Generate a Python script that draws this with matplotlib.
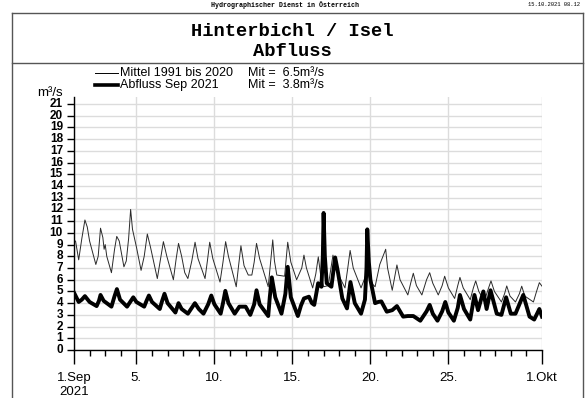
import matplotlib
matplotlib.use("Agg")
import matplotlib.pyplot as plt
from matplotlib.lines import Line2D
from matplotlib.ticker import FixedLocator, MultipleLocator

plt.rcParams['font.family'] = ['Liberation Sans', 'DejaVu Sans']

# Mittel 1991 bis 2020 (Tage ab 1. Sep, m³/s)
mean_t = [0.0, 0.1, 0.3, 0.5, 0.7, 0.85, 1.0, 1.1, 1.4, 1.55, 1.7, 1.85, 1.93, 2.0, 2.1,
          2.4, 2.6, 2.74, 2.9, 3.2, 3.35, 3.5, 3.63, 3.75, 4.0, 4.3, 4.5, 4.7, 4.9,
          5.34, 5.55, 5.73, 5.95, 6.37, 6.55, 6.7, 6.9, 7.1, 7.3, 7.55, 7.76, 7.95,
          8.4, 8.55, 8.7, 8.9, 9.36, 9.55, 9.72, 9.9, 10.4, 10.55, 10.7, 10.9, 11.17,
          11.4, 11.55, 11.7, 11.9, 12.45, 12.6, 12.74, 12.85, 13.0, 13.5, 13.6, 13.7,
          13.9, 14.27, 14.6, 14.74, 14.9, 15.3, 15.5, 15.66, 15.8, 16.0, 16.3, 16.6,
          16.75, 17.0, 17.37, 17.55, 17.7, 17.9, 18.4, 18.6, 18.8, 19.0, 19.3, 19.6,
          19.98, 20.1, 20.4, 20.55, 20.7, 20.9, 21.4, 21.6, 21.75, 21.95, 22.3, 22.6,
          22.8, 23.0, 23.35, 23.6, 23.76, 24.0, 24.4, 24.6, 24.74, 24.95, 25.4, 25.6,
          25.75, 25.95, 26.3, 26.55, 26.73, 26.95, 27.4, 27.6, 27.74, 27.95, 28.3,
          28.55, 28.7, 28.9, 29.45, 29.65, 29.83, 30.0]
mean_q = [9.3, 9.3, 7.7, 9.5, 11.1, 10.5, 9.3, 8.8, 7.3, 8.0, 10.4, 9.6, 8.6, 9.0, 8.0,
          6.6, 8.6, 9.7, 9.3, 7.1, 7.6, 9.5, 12.0, 10.3, 8.8, 6.8, 8.0, 9.9, 8.8,
          6.1, 7.8, 9.25, 8.0, 6.0, 7.8, 9.1, 8.0, 6.6, 6.1, 7.6, 9.2, 7.8,
          6.1, 7.6, 9.2, 7.8, 5.8, 7.5, 9.25, 8.0, 5.4, 7.2, 8.9, 7.2, 6.4,
          6.4, 7.5, 9.1, 7.8, 5.4, 7.5, 9.4, 7.6, 6.4, 6.3, 7.8, 9.2,
          7.5, 6.0, 7.0, 8.1, 7.0, 5.3, 6.5, 7.95, 6.5, 5.4, 5.5, 8.1,
          7.0, 6.3, 5.3, 7.0, 8.5, 7.0, 5.3, 6.0, 6.8, 5.8, 5.4, 7.3,
          8.6, 7.0, 5.1, 6.2, 7.26, 6.0, 4.7, 5.8, 6.55, 5.5, 4.7, 6.0,
          6.6, 5.7, 4.7, 5.5, 6.3, 5.3, 4.4, 5.5, 6.2, 5.3, 4.3, 5.3,
          5.9, 5.0, 4.15, 5.2, 5.9, 5.0, 4.1, 4.8, 5.47, 4.6, 4.1,
          4.8, 5.45, 4.6, 4.1, 5.0, 5.75, 5.45]

# Abfluss Sep 2021
sep_t = [0.0, 0.3, 0.5, 0.7, 1.0, 1.45, 1.6, 1.7, 1.9, 2.4, 2.6, 2.75, 2.95, 3.4, 3.6,
         3.8, 4.0, 4.5, 4.65, 4.8, 5.0, 5.5, 5.65, 5.8, 6.0, 6.5, 6.6, 6.7, 6.9, 7.3,
         7.55, 7.75, 8.0, 8.3, 8.6, 8.8, 9.0, 9.4, 9.55, 9.7, 9.9, 10.3, 10.6, 11.0,
         11.3, 11.55, 11.7, 11.9, 12.45, 12.55, 12.68, 12.9, 13.3, 13.55, 13.7, 13.9,
         14.35, 14.55, 14.74, 15.06, 15.25, 15.4, 15.65, 15.86, 15.95, 16.0, 16.08,
         16.2, 16.5, 16.74, 16.9, 17.2, 17.5, 17.72, 18.0, 18.4, 18.65, 18.75, 18.8,
         18.9, 19.0, 19.3, 19.5, 19.7, 20.05, 20.4, 20.7, 21.1, 21.4, 21.75, 22.2,
         22.6, 22.8, 23.0, 23.3, 23.6, 23.8, 24.0, 24.35, 24.6, 24.74, 25.0, 25.4,
         25.67, 25.9, 26.24, 26.45, 26.7, 27.1, 27.4, 27.7, 28.0, 28.3, 28.8, 29.2,
         29.5, 29.83, 30.0]
sep_q = [4.9, 4.1, 4.3, 4.6, 4.1, 3.75, 4.2, 4.7, 4.2, 3.7, 4.6, 5.2, 4.3, 3.7, 4.1,
         4.5, 4.1, 3.7, 4.2, 4.65, 4.1, 3.5, 4.2, 4.8, 4.0, 3.2, 3.6, 4.0, 3.5, 3.1,
         3.6, 4.0, 3.5, 3.1, 3.9, 4.65, 3.9, 3.1, 4.0, 5.05, 4.0, 3.1, 3.7, 3.7,
         3.0, 3.9, 5.1, 3.9, 2.9, 4.5, 6.2, 4.5, 3.1, 4.8, 7.1, 4.5,
         2.9, 3.8, 4.4, 4.55, 4.0, 3.85, 5.7, 5.4, 8.0, 11.7, 8.0,
         5.7, 5.4, 7.9, 6.8, 4.4, 3.55, 5.8, 4.0, 3.1, 4.3, 7.0, 10.3,
         7.5, 6.0, 4.0, 4.1, 4.15, 3.27, 3.4, 3.75, 2.85, 2.9, 2.9, 2.5,
         3.3, 3.85, 3.1, 2.5, 3.3, 4.1, 3.2, 2.5, 3.6, 4.7, 3.5, 2.6,
         4.7, 3.4, 5.0, 3.5, 5.1, 3.1, 3.0, 4.5, 3.1, 3.1, 4.7, 2.85,
         2.6, 3.5, 2.85]

tick_days = [0, 4, 9, 14, 19, 24, 30]
tick_labels = ['1.Sep\n2021', '5.', '10.', '15.', '20.', '25.', '1.Okt']

W, H = 585, 398
fig = plt.figure(figsize=(W / 100, H / 100), dpi=100)

# Rahmen
def fline(x0, y0, x1, y1, lw=1.0, color='#555555'):
    fig.add_artist(Line2D([x0 / W, x1 / W], [1 - y0 / H, 1 - y1 / H],
                          transform=fig.transFigure, lw=lw, color=color))

fline(12, 13, 583, 13)
fline(12, 13, 12, 398)
fline(583, 13, 583, 398)
fline(12, 63, 583, 63)

fig.text(285 / W, 1 - 5 / H, 'Hydrographischer Dienst in Österreich',
         family='Liberation Mono', weight='bold', fontsize=4.8, ha='center', va='center')
fig.text(580 / W, 1 - 5 / H, '15.10.2021 08.12', family='Liberation Mono',
         fontsize=4.0, ha='right', va='center')
fig.text(292 / W, 1 - 32 / H, 'Hinterbichl / Isel', family='Liberation Mono',
         weight='bold', fontsize=13.5, ha='center', va='center')
fig.text(292 / W, 1 - 52 / H, 'Abfluss', family='Liberation Mono',
         weight='bold', fontsize=13.5, ha='center', va='center')

# Legende
fig.add_artist(Line2D([95 / W, 118 / W], [1 - 73 / H, 1 - 73 / H],
                      transform=fig.transFigure, lw=0.7, color='black'))
fig.add_artist(Line2D([95 / W, 118 / W], [1 - 85 / H, 1 - 85 / H],
                      transform=fig.transFigure, lw=2.6, color='black'))
fig.text(120 / W, 1 - 73 / H, 'Mittel 1991 bis 2020', fontsize=9, va='center')
fig.text(120 / W, 1 - 85 / H, 'Abfluss Sep 2021', fontsize=9, va='center')
fig.text(248 / W, 1 - 73 / H, 'Mit =  6.5m³/s', fontsize=9, va='center')
fig.text(248 / W, 1 - 85 / H, 'Mit =  3.8m³/s', fontsize=9, va='center')
fig.text(37 / W, 1 - 93 / H, 'm³/s', fontsize=9.5, va='center')

ax = fig.add_axes([74 / W, 1 - 350 / H, (542 - 74) / W, (350 - 97) / H])
ax.plot(mean_t, mean_q, color='#2a2a2a', lw=0.7)
ax.plot(sep_t, sep_q, color='black', lw=2.8, solid_joinstyle='round')

ax.set_xlim(0, 30)
ax.set_ylim(0, 21.6)
ax.yaxis.set_major_locator(FixedLocator(range(0, 22)))
ax.set_yticklabels([str(i) for i in range(0, 22)], fontsize=8.5, weight='bold')
ax.xaxis.set_major_locator(FixedLocator(tick_days))
ax.set_xticklabels(tick_labels, fontsize=9.5)
ax.xaxis.set_minor_locator(MultipleLocator(1))
ax.tick_params(axis='x', which='major', length=10, width=1, pad=6)
ax.tick_params(axis='x', which='minor', length=4, width=1)
ax.tick_params(axis='y', length=5, width=1, pad=3)
for lab in ax.get_yticklabels():
    lab.set_verticalalignment('center')

ax.grid(True, axis='y', color='#dcdcdc', lw=1)
ax.grid(True, axis='x', which='major', color='#dcdcdc', lw=1)
ax.set_axisbelow(True)
for s in ['top', 'right']:
    ax.spines[s].set_visible(False)
ax.spines['left'].set_linewidth(1)
ax.spines['bottom'].set_linewidth(1)

fig.savefig('out.png', dpi=100)
